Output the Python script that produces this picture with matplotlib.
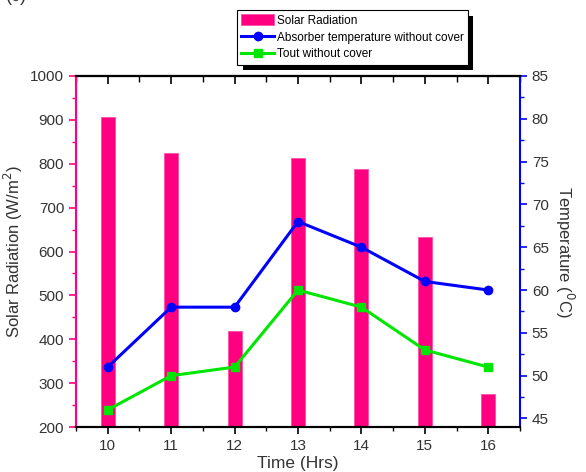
import matplotlib
matplotlib.use('Agg')
import matplotlib.pyplot as plt
from matplotlib.ticker import MultipleLocator
import matplotlib.patheffects as pe

plt.rcParams['font.family'] = ['Liberation Sans', 'DejaVu Sans']

# data
hours = [10, 11, 12, 13, 14, 15, 16]
solar = [906, 825, 418, 814, 789, 634, 275]
absorber_temp = [51, 58, 58, 68, 65, 61, 60]
tout = [46, 50, 51, 60, 58, 53, 51]

pink = '#ff0080'
blue = '#0000ff'
green = '#00e600'
txt = '#333333'

fig = plt.figure(figsize=(5.86, 4.72), dpi=100)
ax = fig.add_axes([0.1297, 0.0953, 0.7577, 0.7437])
ax2 = ax.twinx()

bars = ax.bar(hours, solar, width=0.22, color=pink, edgecolor='#ff4da6', lw=0.6,
              label='Solar Radiation', zorder=2)
l1, = ax2.plot(hours, absorber_temp, '-o', color=blue, lw=2.2, ms=6,
               label='Absorber temperature without cover')
l2, = ax2.plot(hours, tout, '-s', color=green, lw=2.2, ms=6,
               label='Tout without cover')

ax.set_xlim(9.5, 16.5)
ax.set_ylim(200, 1000)
ax2.set_ylim(44, 85)
ax.set_xticks(hours)
ax.xaxis.set_minor_locator(MultipleLocator(0.5))
ax.yaxis.set_major_locator(MultipleLocator(100))
ax.yaxis.set_minor_locator(MultipleLocator(50))
ax2.set_yticks(range(45, 86, 5))
ax2.yaxis.set_minor_locator(MultipleLocator(2.5))

# spines and ticks
ax.spines['left'].set_color(pink)
ax2.spines['left'].set_color(pink)
ax2.spines['right'].set_color(blue)
ax.spines['right'].set_visible(False)
for a in (ax, ax2):
    for s in a.spines.values():
        s.set_linewidth(1.5)
ax.tick_params(axis='y', colors=pink, labelcolor=txt, labelsize=11, width=1.2, length=5)
ax.tick_params(axis='y', which='minor', colors=pink, width=1.0, length=3)
ax2.tick_params(axis='y', colors=blue, labelcolor=txt, labelsize=11, width=1.2, length=5)
ax2.tick_params(axis='y', which='minor', colors=blue, width=1.0, length=3)
ax.tick_params(axis='x', labelsize=11, labelcolor=txt, width=1.2, length=5)
ax.tick_params(axis='x', which='minor', width=1.0, length=3)

# top ticks point inward
top = ax.secondary_xaxis('top')
top.set_xticks(hours)
top.xaxis.set_minor_locator(MultipleLocator(0.5))
top.tick_params(axis='x', which='major', direction='in', length=6, width=1.2, labeltop=False)
top.tick_params(axis='x', which='minor', direction='in', length=4, width=1.0)
top.spines['top'].set_linewidth(1.5)

ax.set_xlabel('Time (Hrs)', fontsize=12.5, color=txt, labelpad=2)
ax.set_ylabel('Solar Radiation (W/m$^2$)', fontsize=12, color=txt, labelpad=4)
ax2.set_ylabel('Temperature ($^0$C)', fontsize=12, color=txt, rotation=270, labelpad=20)

leg = ax2.legend([bars, l1, l2],
                 ['Solar Radiation', 'Absorber temperature without cover', 'Tout without cover'],
                 loc='upper left', bbox_to_anchor=(0.3626, 1.188), fontsize=8.5,
                 frameon=True, fancybox=False, edgecolor='black', framealpha=1,
                 handlelength=2.8, handleheight=1.1, handletextpad=0.2, borderpad=0.35,
                 labelspacing=0.35, borderaxespad=0)
leg.get_frame().set_linewidth(0.8)
leg.get_frame().set_path_effects([pe.SimplePatchShadow(offset=(4, -4), shadow_rgbFace='black', alpha=1),
                                  pe.Normal()])

fig.text(0.01, 1.008, '(c)', fontsize=13, color=txt, va='center')

fig.savefig('out.png', dpi=100)
